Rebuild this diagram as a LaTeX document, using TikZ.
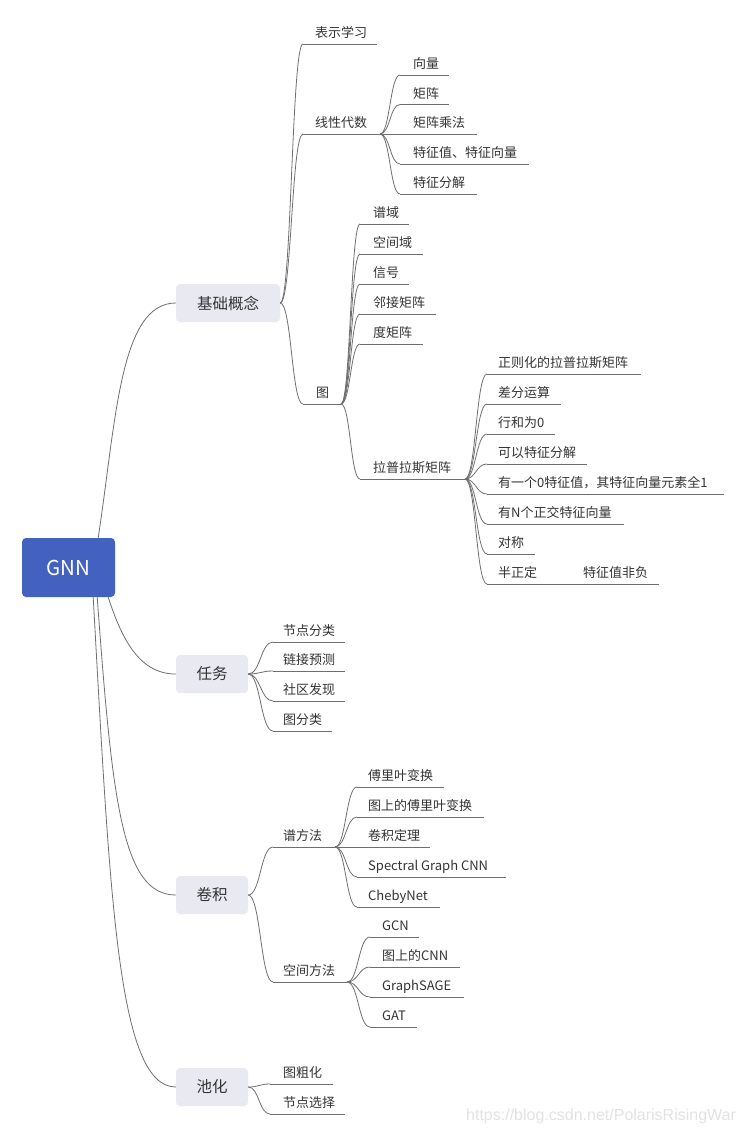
\documentclass[tikz,border=0pt]{standalone}
\usepackage{fontspec}
\setmainfont{Noto Sans CJK SC}
\newfontfamily\wmfont{Liberation Sans}
\usetikzlibrary{calc}
\definecolor{gnnblue}{HTML}{4361BE}
\definecolor{boxgrey}{HTML}{E9EAF1}
\definecolor{linegrey}{HTML}{6E6E6E}
\definecolor{txt}{HTML}{333333}
\definecolor{wmgrey}{HTML}{E2E2E2}
\newcommand\sconn[2]{\draw[conn] let \p1=(#1), \p2=(#2), \n1={0.5*(\x2-\x1)} in (\p1) .. controls +({\n1},0) and +({-\n1},0) .. (\p2);}
% name, parent, line start x, line end x, line y, text x, text
\newcommand\leaf[7]{%
  \coordinate (#1-s) at (#3,#5);
  \coordinate (#1-e) at (#4,#5);
  \node[lbl] (#1) at (#6,#5-6.5) {#7};
  \draw[conn] (#1-s) -- (#1-e);
  \sconn{#2}{#1-s}
}
\begin{document}
\begin{tikzpicture}[x=1pt,y=-1pt,
  conn/.style={draw=linegrey,line width=0.8pt},
  lbl/.style={anchor=base west,inner sep=0pt,text=txt,font=\fontsize{13}{13}\selectfont},
  topic/.style={fill=boxgrey,rounded corners=4pt,text=txt,font=\fontsize{15.5}{16}\selectfont,minimum height=38pt,inner sep=0pt},
  rootbox/.style={fill=gnnblue,rounded corners=4pt,text=white,font=\fontsize{20.5}{21}\selectfont,minimum width=93pt,minimum height=59pt,inner sep=0pt}]
\useasboundingbox (0,0) rectangle (744,1135);

% root and main topics
\node[rootbox] (gnn) at (68.5,567.5) {GNN};
\node[topic,minimum width=104pt] (b1) at (228,303) {基础概念};
\node[topic,minimum width=72pt] (b2) at (212,674) {任务};
\node[topic,minimum width=72pt] (b3) at (212,895) {卷积};
\node[topic,minimum width=72pt] (b4) at (212,1087) {池化};

% root connectors
\coordinate (r1) at ($(gnn.north east)+(-17,0)$);
\coordinate (r2) at ($(gnn.south east)+(-7,0)$);
\coordinate (r3) at ($(gnn.south east)+(-18,0)$);
\coordinate (r4) at ($(gnn.south east)+(-22,0)$);
\draw[conn] (r1) .. controls +(18,-118) and +(-56,0) .. (b1.west);
\draw[conn] (r2) .. controls +(14,43) and +(-36,0) .. (b2.west);
\draw[conn] (r3) .. controls +(15,203) and +(-54,0) .. (b3.west);
\draw[conn] (r4) .. controls +(17,303) and +(-58,0) .. (b4.west);

% 基础概念
\leaf{bs}{b1.east}{303}{377}{44}{315}{表示学习}
\leaf{la}{b1.east}{303}{380}{134}{315}{线性代数}
\leaf{la1}{la-e}{400}{449}{75}{413}{向量}
\leaf{la2}{la-e}{400}{449}{104.5}{413}{矩阵}
\leaf{la3}{la-e}{400}{477}{134}{413}{矩阵乘法}
\leaf{la4}{la-e}{400}{529}{164}{413}{特征值、特征向量}
\leaf{la5}{la-e}{400}{477}{194}{413}{特征分解}
\leaf{tu}{b1.east}{303}{341}{404}{316}{图}
\leaf{tu1}{tu-e}{360}{409}{224}{373}{谱域}
\leaf{tu2}{tu-e}{360}{423}{254}{373}{空间域}
\leaf{tu3}{tu-e}{360}{409}{284}{373}{信号}
\leaf{tu4}{tu-e}{360}{436}{314}{373}{邻接矩阵}
\leaf{tu5}{tu-e}{360}{423}{344}{373}{度矩阵}
\leaf{lp}{tu-e}{360}{465}{479}{373}{拉普拉斯矩阵}
\leaf{lp1}{lp-e}{487}{641}{374}{498}{正则化的拉普拉斯矩阵}
\leaf{lp2}{lp-e}{487}{561}{404}{498}{差分运算}
\leaf{lp3}{lp-e}{487}{555}{434}{498}{行和为0}
\leaf{lp4}{lp-e}{487}{587}{464}{498}{可以特征分解}
\leaf{lp5}{lp-e}{487}{724}{494}{498}{有一个0特征值，其特征向量元素全1}
\leaf{lp6}{lp-e}{487}{624}{524}{498}{有N个正交特征向量}
\leaf{lp7}{lp-e}{487}{535}{554}{498}{对称}
\leaf{lp8}{lp-e}{487}{659}{584}{498}{半正定}
\node[lbl] (lp8b) at (583,577.5) {特征值非负};

% 任务
\leaf{rw1}{b2.east}{273}{345}{642}{283}{节点分类}
\leaf{rw2}{b2.east}{273}{345}{671}{283}{链接预测}
\leaf{rw3}{b2.east}{273}{345}{701}{283}{社区发现}
\leaf{rw4}{b2.east}{273}{332}{731}{283}{图分类}

% 卷积
\leaf{sp}{b3.east}{273}{335}{847}{283}{谱方法}
\leaf{sp1}{sp-e}{357}{444}{787}{368}{傅里叶变换}
\leaf{sp2}{sp-e}{357}{484}{817}{368}{图上的傅里叶变换}
\leaf{sp3}{sp-e}{357}{430}{847}{368}{卷积定理}
\leaf{sp4}{sp-e}{357}{506}{877}{368}{Spectral Graph CNN}
\leaf{sp5}{sp-e}{357}{440}{907}{368}{ChebyNet}
\leaf{kj}{b3.east}{273}{347}{982}{283}{空间方法}
\leaf{kj1}{kj-e}{370}{419}{937}{382}{GCN}
\leaf{kj2}{kj-e}{370}{460}{967}{382}{图上的CNN}
\leaf{kj3}{kj-e}{370}{464}{997}{382}{GraphSAGE}
\leaf{kj4}{kj-e}{370}{417}{1027}{382}{GAT}

% 池化
\leaf{ch1}{b4.east}{270}{333}{1084}{283}{图粗化}
\leaf{ch2}{b4.east}{270}{345}{1114}{283}{节点选择}

% watermark
\node[anchor=west,inner sep=0pt,text=wmgrey,font=\wmfont\fontsize{16}{16}\selectfont] (wm) at (466,1116) {https://blog.csdn.net/PolarisRisingWar};
\end{tikzpicture}
\end{document}
